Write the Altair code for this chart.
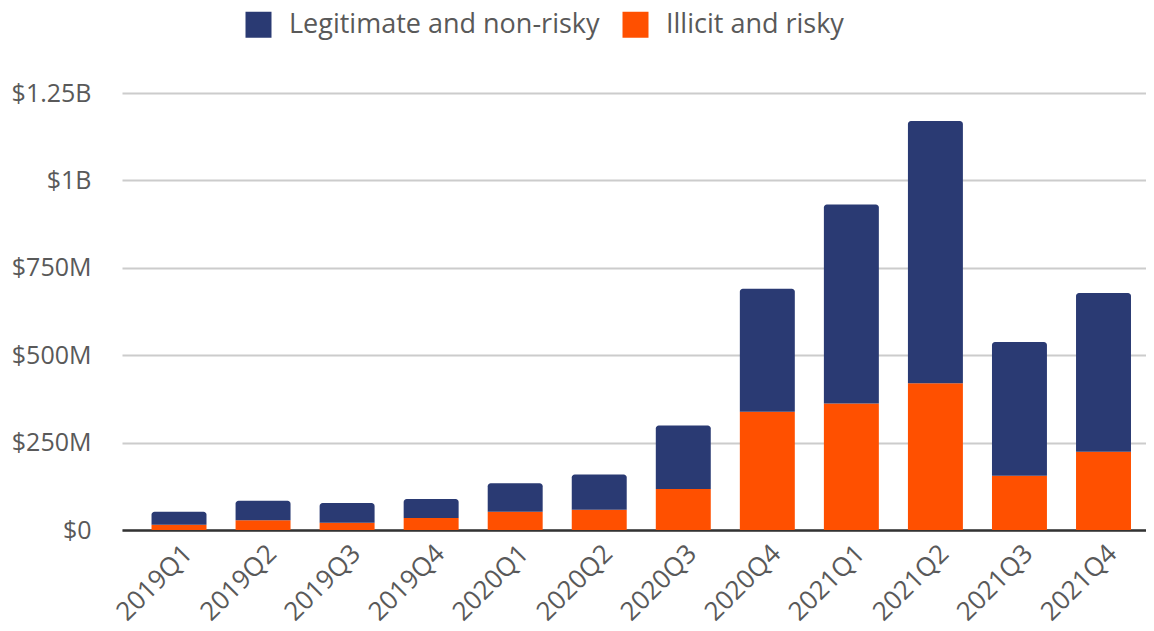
import altair as alt
import pandas as pd

quarters = ["2019Q1", "2019Q2", "2019Q3", "2019Q4", "2020Q1", "2020Q2",
            "2020Q3", "2020Q4", "2021Q1", "2021Q2", "2021Q3", "2021Q4"]
# values in millions of USD
illicit = [15, 28, 21, 34, 52, 58, 117, 338, 362, 420, 155, 224]
legit = [37, 56, 56, 55, 82, 101, 182, 352, 569, 750, 383, 454]
series = ["Legitimate and non-risky", "Illicit and risky"]
colors = ["#2a3a73", "#ff5000"]
y_ticks = [0, 250, 500, 750, 1000, 1250]

df = pd.DataFrame({"quarter": quarters, "illicit": illicit, "legit": legit})
df["total"] = df["illicit"] + df["legit"]

FONT = "Open Sans"
TXT = "#595959"

color_scale = alt.Scale(domain=series, range=colors)

x_enc = alt.X(
    "quarter:N",
    sort=quarters,
    scale=alt.Scale(paddingInner=0.346, paddingOuter=0.265, align=0.663),
    axis=alt.Axis(title=None, labelAngle=-45, labelFontSize=26, labelColor=TXT,
                  labelFont=FONT, ticks=False, domain=True, domainColor="#333333",
                  domainWidth=2.5, labelPadding=10, grid=False),
)

y_axis = alt.Axis(
    title=None, values=y_ticks, labelFontSize=25, labelColor=TXT, labelFont=FONT,
    ticks=False, domain=False, grid=True, gridColor="#cccccc", gridWidth=2,
    labelPadding=31,
    labelExpr="datum.value == 0 ? '$0' : (datum.value >= 1000 ? '$' + (datum.value/1000) + 'B' : '$' + datum.value + 'M')",
)

legend = alt.Legend(
    title=None, orient="none", legendX=123, legendY=-82, direction="horizontal",
    symbolType="square", symbolSize=676, symbolStrokeWidth=0, labelFontSize=27,
    labelFont=FONT, labelColor=TXT, labelOffset=17, columnPadding=22,
    symbolOpacity=1, labelLimit=0,
)

base = alt.Chart(df)

blue = base.mark_bar(cornerRadiusTopLeft=3, cornerRadiusTopRight=3).transform_calculate(
    series="'" + series[0] + "'"
).encode(
    x=x_enc,
    y=alt.Y("total:Q", scale=alt.Scale(domain=[0, 1250], nice=False), axis=y_axis),
    y2="illicit:Q",
    color=alt.Color("series:N", scale=color_scale, legend=legend),
)

orange = base.mark_bar().transform_calculate(
    series="'" + series[1] + "'", zero="0"
).encode(
    x=x_enc,
    y=alt.Y("illicit:Q", scale=alt.Scale(domain=[0, 1250], nice=False), axis=y_axis),
    y2="zero:Q",
    color=alt.Color("series:N", scale=color_scale, legend=legend),
)

chart = alt.layer(orange, blue).properties(
    width=1024, height=437,
    autosize=alt.AutoSizeParams(type="none"),
    padding={"left": 114, "top": 85, "right": 0, "bottom": 100},
).configure_view(stroke=None)

chart.save("out.html", embed_options={"renderer": "svg", "actions": False})
